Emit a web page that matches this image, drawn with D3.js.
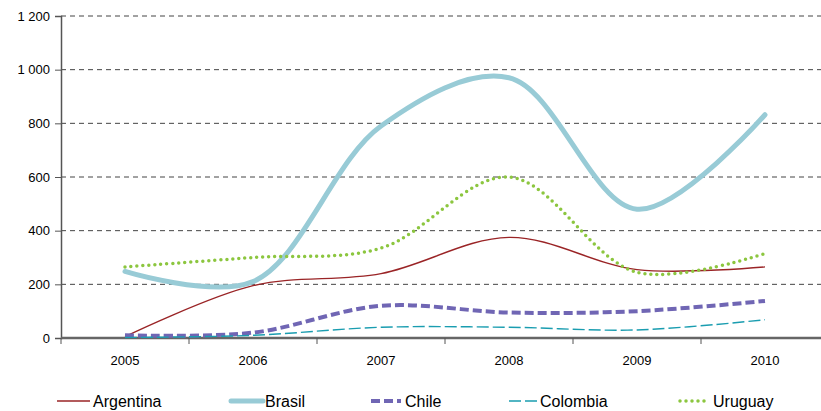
<!DOCTYPE html>
<html><head><meta charset="utf-8">
<script src="https://cdn.jsdelivr.net/npm/d3@7"></script>
<style>body{margin:0;background:#fff}svg{display:block;font-family:"Liberation Sans",Arial,sans-serif}</style>
</head><body><svg id="c" width="821" height="411"></svg>
<script>
const years = ["2005","2006","2007","2008","2009","2010"];
const argentina = [5, 195, 240, 375, 255, 265];
const brasil = [248, 210, 790, 970, 480, 832];
const chile = [10, 20, 120, 95, 100, 138];
const colombia = [2, 10, 40, 40, 30, 68];
const uruguay = [265, 300, 335, 600, 245, 315];
const yTicks = [0, 200, 400, 600, 800, 1000, 1200];

const series = [
  {name:"Argentina", values:argentina, color:"#9a2426", width:1.4, dash:null, cap:"butt", lx:[57,90], tx:93},
  {name:"Brasil", values:brasil, color:"#98cbd6", width:5, dash:null, cap:"round", lx:[231,263], tx:265},
  {name:"Chile", values:chile, color:"#7066b4", width:4, dash:"9,4", cap:"butt", lx:[371,401], tx:405},
  {name:"Colombia", values:colombia, color:"#1a9db0", width:1.4, dash:"12,4", cap:"butt", lx:[509,537], tx:540},
  {name:"Uruguay", values:uruguay, color:"#8cc63f", width:3.5, dash:"0,6", cap:"round", lx:[680,706], tx:713}
];

const svg = d3.select("#c");
const x = d3.scaleBand().domain(years).range([61, 829]);
const y = d3.scaleLinear().domain([0, 1200]).range([338, 16]);

// gridlines
svg.append("g").selectAll("line").data(yTicks.filter(d=>d>0)).join("line")
  .attr("x1", 61).attr("x2", 829).attr("y1", d=>y(d)).attr("y2", d=>y(d))
  .attr("stroke", "#444").attr("stroke-width", 1).attr("stroke-dasharray", "5,4");

// y axis
const yAxis = d3.axisLeft(y).tickValues(yTicks).tickSize(6).tickPadding(5)
  .tickFormat(d => d3.format(",")(d).replace(",", " "));
const gy = svg.append("g").attr("transform", "translate(61,0)").call(yAxis);
gy.select(".domain").attr("stroke", "#555").attr("stroke-width", 1.5);
gy.selectAll(".tick line").attr("stroke", "#555");
gy.selectAll("text").attr("font-size", 13).attr("fill", "#000").attr("font-family", "Liberation Sans, Arial, sans-serif");

// x axis
const gx = svg.append("g").attr("transform", "translate(0,338)");
gx.append("line").attr("x1", 61).attr("x2", 829).attr("y1", 0).attr("y2", 0)
  .attr("stroke", "#666").attr("stroke-width", 2.5);
const bounds = years.map(d => x(d)).concat([x(years[years.length-1]) + x.bandwidth()]);
gx.selectAll("line.t").data(bounds).join("line").attr("class","t")
  .attr("x1", d=>d).attr("x2", d=>d).attr("y1", 0).attr("y2", 6).attr("stroke", "#555").attr("stroke-width", 1);
gx.selectAll("text").data(years).join("text")
  .attr("x", d => x(d) + x.bandwidth()/2).attr("y", 27).attr("text-anchor", "middle")
  .attr("font-size", 13).attr("fill", "#000").text(d=>d);

// lines
const line = d3.line().x((d,i) => x(years[i]) + x.bandwidth()/2).y(d => y(d)).curve(d3.curveCatmullRom.alpha(0.5));
series.forEach(s => {
  svg.append("path").datum(s.values).attr("d", line).attr("fill", "none")
    .attr("stroke", s.color).attr("stroke-width", s.width)
    .attr("stroke-dasharray", s.dash).attr("stroke-linecap", s.cap).attr("stroke-linejoin","round");
});

// legend
const lg = svg.append("g");
series.forEach(s => {
  lg.append("line").attr("x1", s.lx[0]).attr("x2", s.lx[1]).attr("y1", 401).attr("y2", 401)
    .attr("stroke", s.color).attr("stroke-width", s.width).attr("stroke-dasharray", s.dash).attr("stroke-linecap", s.cap);
  lg.append("text").attr("x", s.tx).attr("y", 407).attr("font-size", 16).attr("fill","#000").text(s.name);
});
</script></body></html>
